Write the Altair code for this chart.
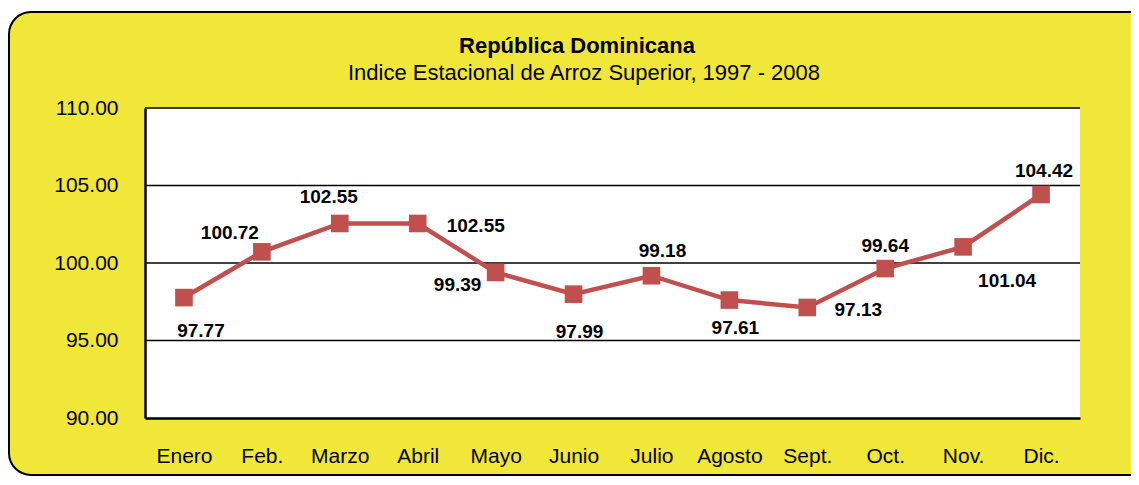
import altair as alt
import pandas as pd

# ---- data ----
months = ["Enero", "Feb.", "Marzo", "Abril", "Mayo", "Junio",
          "Julio", "Agosto", "Sept.", "Oct.", "Nov.", "Dic."]
values = [97.77, 100.72, 102.55, 102.55, 99.39, 97.99,
          99.18, 97.61, 97.13, 99.64, 101.04, 104.42]
y_ticks = [90, 95, 100, 105, 110]
grid_lines = [95, 100, 105, 110]

TITLE = "República Dominicana"
SUBTITLE = "Indice Estacional de Arroz Superior, 1997 - 2008"

# ---- styling ----
W, H = 935, 310
FONT = "Liberation Sans"
RED = "#C0504D"
YELLOW = "#F1E738"

# label placement (pixel offsets from each point, as in the reference)
label_offsets = {
    "Enero": (17, 33), "Feb.": (-32, -19), "Marzo": (-11, -26),
    "Abril": (58, 3), "Mayo": (-38, 13), "Junio": (6, 38),
    "Julio": (11, -25), "Agosto": (6, 28), "Sept.": (51, 3),
    "Oct.": (0, -23), "Nov.": (44, 34), "Dic.": (3, -23),
}

df = pd.DataFrame({"mes": months, "valor": values})
grid_df = pd.DataFrame({"valor": grid_lines})
one = pd.DataFrame({"a": [0]})

x_enc = alt.X(
    "mes:N", sort=months,
    scale=alt.Scale(type="point", padding=0.5),
    axis=alt.Axis(title=None, labelAngle=0, ticks=False, tickSize=0,
                  domain=True, domainColor="black", domainWidth=2.5,
                  labelPadding=27, grid=False, zindex=1),
)
y_scale = alt.Scale(domain=[90, 110], nice=False, zero=False)
y_enc = alt.Y(
    "valor:Q", scale=y_scale,
    axis=alt.Axis(title=None, values=y_ticks, format=".2f", ticks=False,
                  tickSize=0, domain=True, domainColor="black",
                  domainWidth=2.5, labelPadding=27, grid=False, zindex=1),
)

# yellow rounded panel, running off the right edge as in the reference
panel = alt.Chart(one).mark_rect(
    fill=YELLOW, stroke="black", strokeWidth=2, cornerRadius=22
).encode(
    x=alt.value(-136), x2=alt.value(W + 400),
    y=alt.value(-96), y2=alt.value(H + 57),
)

plot_bg = alt.Chart(one).mark_rect(fill="white").encode(
    x=alt.value(0), x2=alt.value(W), y=alt.value(0), y2=alt.value(H)
)

grid = alt.Chart(grid_df).mark_rule(color="black", strokeWidth=1.5).encode(
    y=y_enc
)

title_txt = alt.Chart(one).mark_text(
    font=FONT, fontSize=22, fontWeight="bold", color="black",
    align="center", baseline="middle",
).encode(x=alt.value(432), y=alt.value(-62), text=alt.value(TITLE))

subtitle_txt = alt.Chart(one).mark_text(
    font=FONT, fontSize=22, color="black",
    align="center", baseline="middle",
).encode(x=alt.value(439), y=alt.value(-35), text=alt.value(SUBTITLE))

base = alt.Chart(df)
line = base.mark_line(color=RED, strokeWidth=4.5).encode(x=x_enc, y=y_enc)
points = base.mark_point(
    shape="square", filled=True, size=310, color=RED, opacity=1
).encode(x=x_enc, y=y_enc)

labels = []
for m in months:
    dx, dy = label_offsets[m]
    labels.append(
        base.transform_filter(alt.datum.mes == m).mark_text(
            font=FONT, fontSize=19, fontWeight="bold", color="black",
            align="center", baseline="middle", dx=dx, dy=dy,
        ).encode(x=x_enc, y=y_enc, text=alt.Text("valor:Q", format=".2f"))
    )

chart = alt.layer(
    panel, plot_bg, grid, title_txt, subtitle_txt,
    line, points, *labels
).properties(
    width=W, height=H,
    autosize=alt.AutoSizeParams(type="none"),
    padding={"left": 137, "top": 100, "right": 51, "bottom": 59},
    background="white",
).configure_view(
    strokeWidth=0
).configure_axis(
    labelFont=FONT, labelFontSize=21, labelColor="black"
)

chart.save("out.html", embed_options={"renderer": "svg", "actions": False})
